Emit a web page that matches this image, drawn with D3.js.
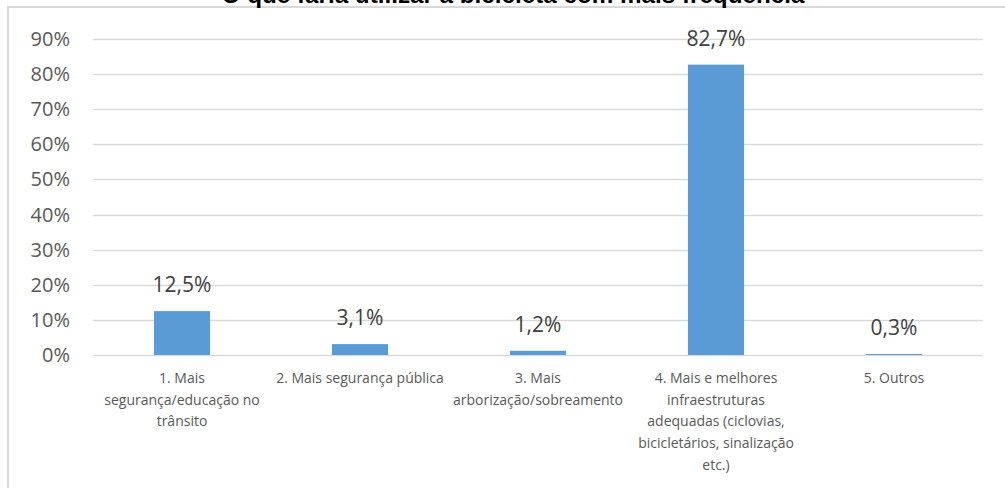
<!DOCTYPE html>
<html>
<head>
<meta charset="utf-8">
<script src="https://cdn.jsdelivr.net/npm/d3@7"></script>
<style>
  html, body { margin: 0; padding: 0; background: #fff; }
  svg { display: block; }
</style>
</head>
<body>
<svg id="chart" width="1005" height="488"></svg>
<script>
const title = "O que faria utilizar a bicicleta com mais frequência";
const categories = [
  "1. Mais|segurança/educação no|trânsito",
  "2. Mais segurança pública",
  "3. Mais|arborização/sobreamento",
  "4. Mais e melhores|infraestruturas|adequadas (ciclovias,|bicicletários, sinalização|etc.)",
  "5. Outros"
];
const values = [0.125, 0.031, 0.012, 0.827, 0.003];
const valueLabels = ["12,5%", "3,1%", "1,2%", "82,7%", "0,3%"];
const yTicks = [0, 0.1, 0.2, 0.3, 0.4, 0.5, 0.6, 0.7, 0.8, 0.9];

(function () {
const svg = d3.select("#chart");
const plotLeft = 93, plotRight = 983, plotTop = 39, plotBottom = 355;

// chart border
svg.append("rect")
  .attr("x", 8).attr("y", 7)
  .attr("width", 1100).attr("height", 600)
  .attr("fill", "none")
  .attr("stroke", "#d9d9d9")
  .attr("stroke-width", 2);

// title (clipped at top)
const t = svg.append("text")
  .attr("x", 513).attr("y", 3)
  .attr("text-anchor", "middle")
  .attr("font-family", "Liberation Sans, Arial, sans-serif")
  .attr("font-weight", "bold")
  .attr("font-size", 18)
  .attr("fill", "#000")
  .text(title);
const tl = t.node().getComputedTextLength();
t.attr("font-size", 18 * 583 / tl);

const x = d3.scaleBand().domain(categories).range([plotLeft, plotRight]).padding(0);
const y = d3.scaleLinear().domain([0, 0.9]).range([plotBottom, plotTop]);
const barW = x.bandwidth() * 0.315;

// gridlines
svg.append("g")
  .selectAll("line")
  .data(yTicks)
  .join("line")
  .attr("x1", plotLeft).attr("x2", plotRight)
  .attr("y1", d => Math.round(y(d)) + 0.5)
  .attr("y2", d => Math.round(y(d)) + 0.5)
  .attr("stroke", "#d9d9d9")
  .attr("stroke-width", 1.5);

// y axis labels
const fmt = d => Math.round(d * 100) + "%";
svg.append("g")
  .selectAll("text")
  .data(yTicks)
  .join("text")
  .attr("x", 70)
  .attr("y", d => y(d))
  .attr("dy", "0.35em")
  .attr("text-anchor", "end")
  .attr("font-family", "Open Sans, sans-serif")
  .attr("font-size", 20)
  .attr("fill", "#595959")
  .text(fmt);

// bars
svg.append("g")
  .selectAll("rect")
  .data(values)
  .join("rect")
  .attr("x", (d, i) => x(categories[i]) + x.bandwidth() / 2 - barW / 2)
  .attr("width", barW)
  .attr("y", d => y(d))
  .attr("height", d => y(0) - y(d))
  .attr("fill", "#5b9bd5");

// value labels
svg.append("g")
  .selectAll("text")
  .data(values)
  .join("text")
  .attr("x", (d, i) => x(categories[i]) + x.bandwidth() / 2)
  .attr("y", d => y(d) - 19)
  .attr("text-anchor", "middle")
  .attr("font-family", "Open Sans, sans-serif")
  .attr("font-size", 21)
  .attr("fill", "#404040")
  .text((d, i) => valueLabels[i]);

// category labels
const cg = svg.append("g");
categories.forEach(c => {
  const lines = c.split("|");
  const txt = cg.append("text")
    .attr("x", x(c) + x.bandwidth() / 2)
    .attr("y", 383)
    .attr("text-anchor", "middle")
    .attr("font-family", "Open Sans, sans-serif")
    .attr("font-size", 14)
    .attr("fill", "#595959");
  lines.forEach((l, i) => {
    txt.append("tspan")
      .attr("x", x(c) + x.bandwidth() / 2)
      .attr("y", 383 + i * 21.7)
      .text(l);
  });
});
})();
</script>
</body>
</html>
